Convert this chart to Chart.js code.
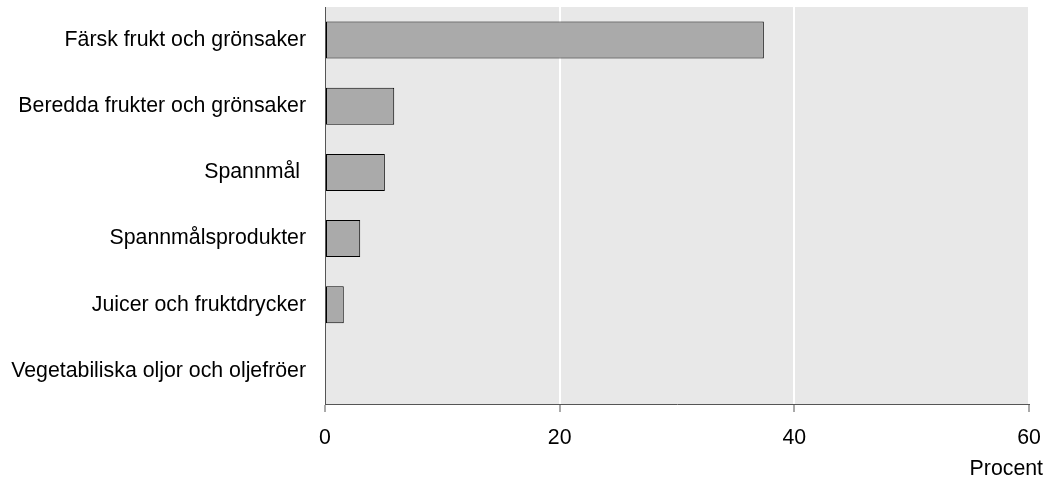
<!DOCTYPE html>
<html>
<head>
<meta charset="utf-8">
<script src="https://cdn.jsdelivr.net/npm/chart.js@4/dist/chart.umd.min.js"></script>
<style>
  html, body { margin: 0; padding: 0; background: #ffffff; }
  #wrap { width: 1045px; height: 481px; }
</style>
</head>
<body>
<div id="wrap"><canvas id="c" width="1045" height="481"></canvas></div>
<script>
// Product groups (y categories) and their share in percent
const categories = [
  'Färsk frukt och grönsaker',
  'Beredda frukter och grönsaker',
  'Spannmål ',
  'Spannmålsprodukter',
  'Juicer och fruktdrycker',
  'Vegetabiliska oljor och oljefröer'
];
const shares = [37.4, 5.9, 5.1, 3.0, 1.6, 0];
const xTicks = [0, 20, 40, 60];
const axisUnit = 'Procent';

const FONT = "'Liberation Sans', Arial, sans-serif";
const FONT_SIZE = 21.3;

// Grey plot background behind the bars
const plotBackground = {
  id: 'plotBackground',
  beforeDraw(chart) {
    const { ctx, chartArea: a } = chart;
    ctx.save();
    ctx.fillStyle = '#e8e8e8';
    ctx.fillRect(a.left, a.top, a.right - a.left, a.bottom - a.top);
    ctx.restore();
  }
};

// Unit caption under the x axis, right-aligned
const unitCaption = {
  id: 'unitCaption',
  afterDraw(chart) {
    const { ctx, chartArea: a } = chart;
    ctx.save();
    ctx.font = FONT_SIZE + 'px ' + FONT;
    ctx.fillStyle = '#000000';
    ctx.textAlign = 'right';
    ctx.textBaseline = 'alphabetic';
    ctx.fillText(axisUnit, a.right + 14, 475);
    ctx.restore();
  }
};

new Chart(document.getElementById('c'), {
  type: 'bar',
  data: {
    labels: categories,
    datasets: [{
      data: shares,
      backgroundColor: '#aaaaaa',
      borderColor: '#000000',
      borderWidth: 1,
      borderSkipped: false,
      categoryPercentage: 1,
      barPercentage: 0.56
    }]
  },
  options: {
    indexAxis: 'y',
    responsive: false,
    animation: false,
    layout: { padding: { top: 7, right: 16, left: 0, bottom: 0 } },
    plugins: { legend: { display: false }, tooltip: { enabled: false } },
    scales: {
      x: {
        min: 0,
        max: 60,
        afterBuildTicks(scale) { scale.ticks = xTicks.map(v => ({ value: v })); },
        afterFit(scale) {
          scale.height = 77;
          scale.paddingLeft = 0;
          scale.paddingRight = 0;
        },
        grid: {
          color: '#ffffff',
          lineWidth: 2,
          drawTicks: true,
          tickLength: 8,
          tickColor: '#555555',
          tickWidth: 1
        },
        border: { display: true, color: '#555555', width: 1 },
        ticks: {
          color: '#000000',
          font: { family: FONT, size: FONT_SIZE },
          padding: 13,
          maxRotation: 0
        }
      },
      y: {
        afterFit(scale) {
          scale.width = 325;
          scale.paddingTop = 0;
          scale.paddingBottom = 0;
        },
        grid: { display: false, drawTicks: false },
        border: { display: true, color: '#555555', width: 1 },
        ticks: {
          color: '#000000',
          font: { family: FONT, size: FONT_SIZE },
          padding: 19,
          crossAlign: 'near'
        }
      }
    }
  },
  plugins: [plotBackground, unitCaption]
});
</script>
</body>
</html>
